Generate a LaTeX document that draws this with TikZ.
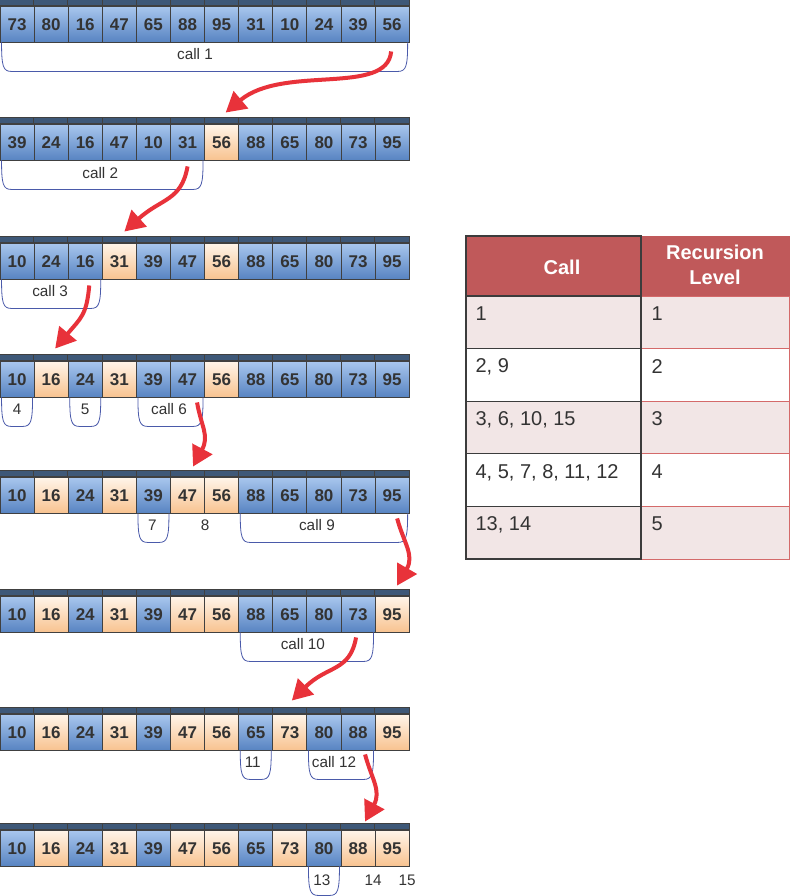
\documentclass[tikz,border=0pt]{standalone}
\usepackage{fontspec}
\setmainfont{Liberation Sans}
\usetikzlibrary{arrows.meta,calc}
\definecolor{bandc}{HTML}{3E5878}
\definecolor{btop}{HTML}{A9C7EE}
\definecolor{bbot}{HTML}{5884C2}
\definecolor{otop}{HTML}{FFF5EA}
\definecolor{obot}{HTML}{F8C390}
\definecolor{cellline}{HTML}{404040}
\definecolor{numc}{HTML}{333333}
\definecolor{brkc}{HTML}{4A5AAA}
\definecolor{arrc}{HTML}{E8323A}
\definecolor{headc}{HTML}{C0595A}
\definecolor{pinkc}{HTML}{F2E6E6}
\definecolor{redline}{HTML}{D46A6A}
\definecolor{tline}{HTML}{3C3C3C}
\tikzset{
  cell/.style={rectangle, draw=cellline, line width=0.9pt, minimum width=34.1pt,
    minimum height=36pt, inner sep=0pt, text=numc, text height=12.2pt, text depth=0pt,
    font=\fontsize{17}{20}\selectfont\bfseries},
  band/.style={fill=bandc, draw=cellline, line width=0.6pt},
  brk/.style={draw=brkc, line width=0.8pt},
  lbl/.style={text=numc, font=\fontsize{15.3}{17}\selectfont, inner sep=0pt},
  arr/.style={draw=arrc, line width=4pt, -{Triangle[length=20pt,width=22pt]}},
  tl/.style={rectangle, draw=tline, line width=1.3pt, minimum width=175pt, inner sep=0pt},
  tr/.style={rectangle, draw=redline, line width=1pt, minimum width=148pt, inner sep=0pt},
  ttext/.style={text=numc, font=\fontsize{20}{23}\selectfont, inner sep=0pt},
  thead/.style={text=white, font=\fontsize{20}{25}\selectfont\bfseries, inner sep=0pt, align=center}
}
\newcommand\cellrow[3]{%
  \foreach \v/\k [count=\i] in {#3}{%
    \node[cell, top color=\k top, bottom color=\k bot] (r#1c\i) at ({(\i-0.5)*34.1},{#2+24}) {\v};
    \filldraw[band] (r#1c\i.north west) rectangle ([yshift=6pt]r#1c\i.north east);
  }%
}
\newcommand\brk[5]{%
  \coordinate (ba) at ([xshift=2pt]r#1c#2.south west);
  \coordinate (bb) at ([xshift=-2pt]r#1c#3.south east);
  \draw[brk] (ba) .. controls ([yshift=-24pt]ba) and ([xshift=1.5pt,yshift=-29pt]ba) .. ([xshift=10pt,yshift=-29pt]ba)
    -- ([xshift=-10pt,yshift=-29pt]bb) .. controls ([xshift=-1.5pt,yshift=-29pt]bb) and ([yshift=-24pt]bb) .. (bb);
  \node[lbl] (l#1c#2) at ($(r#1c#2.south west)!0.5!(r#1c#3.south east)+(#5)$) {#4};
}
\newcommand\trow[5]{%
  \node[tr, fill=#3, minimum height=52.6pt] (b#1r) at (715,#2) {};
  \node[tl, fill=#3, minimum height=52.6pt] (b#1l) at (553.5,#2) {};
  \node[ttext, anchor=base west] (x#1l) at ([xshift=10pt,yshift=-25pt]b#1l.north west) {#4};
  \node[ttext, anchor=base west] (x#1r) at ([xshift=11pt,yshift=-25pt]b#1r.north west) {#5};
}
\begin{document}
\begin{tikzpicture}[x=1pt,y=-1pt]
\fill[white] (0,0) rectangle (790,896);
\useasboundingbox (0,0) rectangle (790,896);

% rows
\cellrow{1}{0}{73/b,80/b,16/b,47/b,65/b,88/b,95/b,31/b,10/b,24/b,39/b,56/b}
\cellrow{2}{118}{39/b,24/b,16/b,47/b,10/b,31/b,56/o,88/b,65/b,80/b,73/b,95/b}
\cellrow{3}{237}{10/b,24/b,16/b,31/o,39/b,47/b,56/o,88/b,65/b,80/b,73/b,95/b}
\cellrow{4}{355}{10/b,16/o,24/b,31/o,39/b,47/b,56/o,88/b,65/b,80/b,73/b,95/b}
\cellrow{5}{471}{10/b,16/o,24/b,31/o,39/b,47/o,56/o,88/b,65/b,80/b,73/b,95/b}
\cellrow{6}{590}{10/b,16/o,24/b,31/o,39/b,47/o,56/o,88/b,65/b,80/b,73/b,95/o}
\cellrow{7}{708}{10/b,16/o,24/b,31/o,39/b,47/o,56/o,65/b,73/o,80/b,88/b,95/o}
\cellrow{8}{824}{10/b,16/o,24/b,31/o,39/b,47/o,56/o,65/b,73/o,80/b,88/o,95/o}

% brackets
\brk{1}{1}{12}{call 1}{-9.6,12}
\brk{2}{1}{6}{call 2}{-2,13}
\brk{3}{1}{3}{call 3}{-1,12}
\brk{4}{1}{1}{4}{0,12}
\brk{4}{3}{3}{5}{0,12}
\brk{4}{5}{6}{call 6}{-1.5,12}
\brk{5}{5}{5}{7}{-1,12}
\brk{5}{8}{12}{call 9}{-7,12}
\brk{6}{8}{11}{call 10}{-4,12}
\brk{7}{8}{8}{11}{-3,12}
\brk{7}{10}{11}{call 12}{-7,12}
\brk{8}{10}{10}{13}{-2,14}
\node[lbl] (l5x) at ([yshift=-12pt]r5c6.south east) {8};
\node[lbl] (l8a) at ([xshift=15pt,yshift=-14pt]r8c11.south) {14};
\node[lbl] (l8b) at ([xshift=15pt,yshift=-14pt]r8c12.south) {15};

% arrows
\coordinate (s1) at ([xshift=-1pt,yshift=-9pt]r1c12.south);
\coordinate (e1) at ([xshift=4pt,yshift=11pt]r2c7.north);
\coordinate (s2) at ([yshift=-6pt]r2c6.south);
\coordinate (e2) at ([xshift=5pt,yshift=11pt]r3c4.north);
\coordinate (s3) at ([xshift=4pt,yshift=-6pt]r3c3.south);
\coordinate (e3) at ([xshift=4pt,yshift=12pt]r4c2.north);
\coordinate (s4) at ([xshift=9.5pt,yshift=-5pt]r4c6.south);
\coordinate (e4) at ([xshift=5.5pt,yshift=10pt]r5c6.north);
\coordinate (s5) at ([xshift=5pt,yshift=-5pt]r5c12.south);
\coordinate (e5) at ([xshift=5pt,yshift=10pt]r6c12.north);
\coordinate (s6) at ([xshift=-2pt,yshift=-5pt]r6c11.south);
\coordinate (e6) at ([xshift=2pt,yshift=13pt]r7c9.north);
\coordinate (s7) at ([xshift=7pt,yshift=-4pt]r7c11.south);
\coordinate (e7) at ([xshift=7pt,yshift=8pt]r8c11.north);
\draw[arr] (s1) .. controls +(-95:45pt) and +(40:75pt) .. (e1);
\draw[arr] (s2) .. controls +(-100:35pt) and +(42:50pt) .. (e2);
\draw[arr] (s3) .. controls +(-95:30pt) and +(50:40pt) .. (e3);
\draw[arr] (s4) .. controls +(-80:25pt) and +(62:35pt) .. (e4);
\draw[arr] (s5) .. controls +(-75:25pt) and +(60:35pt) .. (e5);
\draw[arr] (s6) .. controls +(-100:35pt) and +(45:50pt) .. (e6);
\draw[arr] (s7) .. controls +(-75:25pt) and +(62:35pt) .. (e7);

% table
\node[tr, fill=headc, draw=headc, minimum height=60pt] (h2) at (715,266) {};
\node[tl, fill=headc, minimum height=60pt] (h1) at (553.5,266) {};
\node[thead] (h1t) at (562,267) {Call};
\node[thead] (h2t) at (715,264.5) {Recursion\\Level};
\trow{1}{322.3}{pinkc}{1}{1}
\trow{2}{374.9}{white}{2, 9}{2}
\trow{3}{427.5}{pinkc}{3, 6, 10, 15}{3}
\trow{4}{480.1}{white}{4, 5, 7, 8, 11, 12}{4}
\trow{5}{532.7}{pinkc}{13, 14}{5}
\end{tikzpicture}
\end{document}
